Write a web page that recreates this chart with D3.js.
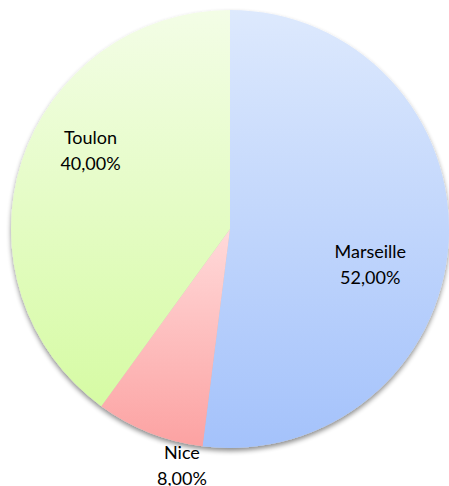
<!DOCTYPE html>
<html>
<head>
<meta charset="utf-8">
<script src="https://cdn.jsdelivr.net/npm/d3@7"></script>
<style>
  html, body { margin: 0; padding: 0; background: #fff; }
  svg { display: block; }
  text { font-family: Lato, "Open Sans", sans-serif; font-size: 18px; fill: #000; }
</style>
</head>
<body>
<svg id="chart" width="449" height="486"></svg>
<script>
// data
const cities = ["Marseille", "Nice", "Toulon"];
const shares = [52, 8, 40];
const shareLabels = ["52,00%", "8,00%", "40,00%"];

// gradient colours per slice (top, bottom)
const topColors = ["#dde9fd", "#ffdada", "#f3fde6"];
const bottomColors = ["#a4c2fb", "#fca2a2", "#d6fba4"];

const width = 449, height = 486;
const cx = 230, cy = 229, radius = 219;

// label placement: radius factor + small nudge (Excel best-fit)
const labelLayout = {
  "Marseille": {k: 0.66, dx: -4, dy: 26},
  "Nice":      {k: 1.08, dx: 39, dy: 16},
  "Toulon":    {k: 0.66, dx: -2, dy: -34}
};

const svg = d3.select("#chart");
const defs = svg.append("defs");

const shadow = defs.append("filter").attr("id", "shadow")
  .attr("x", "-10%").attr("y", "-10%").attr("width", "120%").attr("height", "125%");
shadow.append("feGaussianBlur").attr("in", "SourceAlpha").attr("stdDeviation", 2.5);
shadow.append("feOffset").attr("dx", 0).attr("dy", 3).attr("result", "off");
shadow.append("feComponentTransfer").append("feFuncA").attr("type", "linear").attr("slope", 0.45);
const merge = shadow.append("feMerge");
merge.append("feMergeNode");
merge.append("feMergeNode").attr("in", "SourceGraphic");

cities.forEach((c, i) => {
  const g = defs.append("linearGradient").attr("id", "grad" + i)
    .attr("x1", 0).attr("y1", 0).attr("x2", 0).attr("y2", 1);
  g.append("stop").attr("offset", "0%").attr("stop-color", topColors[i]);
  g.append("stop").attr("offset", "100%").attr("stop-color", bottomColors[i]);
});

const data = cities.map((c, i) => ({city: c, value: shares[i], label: shareLabels[i], i}));

const pie = d3.pie().value(d => d.value).sort(null);
const arc = d3.arc().innerRadius(0).outerRadius(radius);
const arcs = pie(data);

const g = svg.append("g").attr("transform", `translate(${cx},${cy})`);

g.append("g").attr("filter", "url(#shadow)")
  .selectAll("path").data(arcs).join("path")
  .attr("d", arc)
  .attr("fill", d => `url(#grad${d.data.i})`);

const labels = g.append("g").selectAll("text").data(arcs).join("text")
  .attr("text-anchor", "middle")
  .attr("transform", d => {
    const L = labelLayout[d.data.city];
    const r = radius * L.k;
    const [x, y] = d3.arc().innerRadius(r).outerRadius(r).centroid(d);
    return `translate(${x + L.dx},${y + L.dy})`;
  });

labels.append("tspan").attr("x", 0).attr("y", -6).text(d => d.data.city);
labels.append("tspan").attr("x", 0).attr("y", 20).text(d => d.data.label);
</script>
</body>
</html>
